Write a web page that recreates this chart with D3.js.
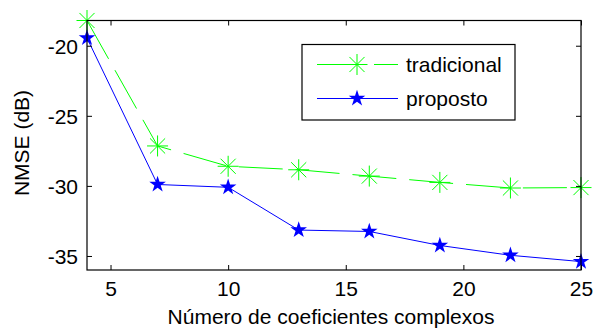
<!DOCTYPE html>
<html>
<head>
<meta charset="utf-8">
<script src="https://cdn.jsdelivr.net/npm/d3@7"></script>
<style>
  body { margin: 0; background: #fff; }
  text { font-family: "Liberation Sans", Arial, sans-serif; }
</style>
</head>
<body>
<div id="chart"></div>
<script>
// data
var coefs = [4, 7, 10, 13, 16, 19, 22, 25];
var tradicional = [-18.2, -27.15, -28.6, -28.85, -29.3, -29.75, -30.15, -30.12];
var proposto = [-19.45, -29.9, -30.1, -33.15, -33.25, -34.25, -34.95, -35.4];
var xTicks = [5, 10, 15, 20, 25];
var yTicks = [-20, -25, -30, -35];
var seriesNames = ['tradicional', 'proposto'];

var W = 595, H = 331;
var margin = { top: 20.5, right: 14, bottom: 61, left: 87 };
var width = W - margin.left - margin.right;
var height = H - margin.top - margin.bottom;

var svg = d3.select('#chart').append('svg').attr('width', W).attr('height', H);
var g = svg.append('g').attr('transform', 'translate(' + margin.left + ',' + margin.top + ')');

var x = d3.scaleLinear().domain([4, 25]).range([0, width]);
var y = d3.scaleLinear().domain([-36, -18.2]).range([height, 0]);

// asterisk marker like matlab '*'
function asterisk(r) {
  var d = r * 0.72;
  return 'M' + (-r) + ',0L' + r + ',0M0,' + (-r) + 'L0,' + r +
    'M' + (-d) + ',' + (-d) + 'L' + d + ',' + d + 'M' + (-d) + ',' + d + 'L' + d + ',' + (-d);
}
var star = d3.symbol().type(d3.symbolStar).size(85);

// lines
var line = d3.line().x(function (d, i) { return x(coefs[i]); }).y(function (d) { return y(d); });

g.append('path').datum(tradicional)
  .attr('d', line).attr('fill', 'none').attr('stroke', '#00ff00')
  .attr('stroke-width', 1).attr('stroke-dasharray', '44,13');
g.append('path').datum(proposto)
  .attr('d', line).attr('fill', 'none').attr('stroke', '#0000ff').attr('stroke-width', 1);

// markers
g.selectAll('.ast').data(tradicional).enter().append('path')
  .attr('transform', function (d, i) { return 'translate(' + x(coefs[i]) + ',' + y(d) + ')'; })
  .attr('d', asterisk(10.5)).attr('stroke', '#00ff00').attr('stroke-width', 1).attr('fill', 'none');
g.selectAll('.star').data(proposto).enter().append('path')
  .attr('transform', function (d, i) { return 'translate(' + x(coefs[i]) + ',' + y(d) + ')'; })
  .attr('d', star).attr('fill', '#0000ff');

// axes
var fontSize = 21;
var xAxis = g.append('g').attr('transform', 'translate(0,' + height + ')')
  .call(d3.axisBottom(x).tickValues(xTicks).tickSize(-5).tickPadding(9));
var yAxis = g.append('g')
  .call(d3.axisLeft(y).tickValues(yTicks).tickSize(-5).tickPadding(9));
g.append('g').call(d3.axisTop(x).tickValues(xTicks).tickSize(-5).tickFormat(''));
g.append('g').attr('transform', 'translate(' + width + ',0)')
  .call(d3.axisRight(y).tickValues(yTicks).tickSize(-5).tickFormat(''));

g.selectAll('.domain').remove();
g.selectAll('.tick line').attr('stroke', '#000');
g.selectAll('.tick text').attr('font-size', fontSize).attr('fill', '#000')
  .style('font-family', '"Liberation Sans", Arial, sans-serif');
xAxis.selectAll('.tick text').attr('dy', '0.8em');
yAxis.selectAll('.tick text').attr('dy', '0.36em').text(function (d) { return '-' + Math.abs(d); });

g.append('rect').attr('width', width).attr('height', height)
  .attr('fill', 'none').attr('stroke', '#000').attr('stroke-width', 1.2);

// labels
svg.append('text').attr('x', 331).attr('y', 324)
  .attr('text-anchor', 'middle').attr('font-size', fontSize).text('Número de coeficientes complexos');
svg.append('text').attr('transform', 'translate(29,143) rotate(-90)')
  .attr('text-anchor', 'middle').attr('font-size', fontSize).text('NMSE (dB)');

// legend
var leg = svg.append('g').attr('transform', 'translate(302,44.5)');
leg.append('rect').attr('width', 213).attr('height', 75.5)
  .attr('fill', '#fff').attr('stroke', '#000').attr('stroke-width', 1.2);
var rows = leg.selectAll('.row').data(seriesNames).enter().append('g')
  .attr('transform', function (d, i) { return 'translate(0,' + (20 + i * 34) + ')'; });
rows.append('line').attr('x1', 15).attr('x2', 96)
  .attr('stroke', function (d, i) { return i ? '#0000ff' : '#00ff00'; })
  .attr('stroke-dasharray', function (d, i) { return i ? null : '44,13'; });
rows.append('path').attr('transform', 'translate(55,0)')
  .attr('d', function (d, i) { return i ? star() : asterisk(10.5); })
  .attr('fill', function (d, i) { return i ? '#0000ff' : 'none'; })
  .attr('stroke', function (d, i) { return i ? 'none' : '#00ff00'; });
rows.append('text').attr('x', 104).attr('y', 7.5).attr('font-size', fontSize).text(function (d) { return d; });
</script>
</body>
</html>
